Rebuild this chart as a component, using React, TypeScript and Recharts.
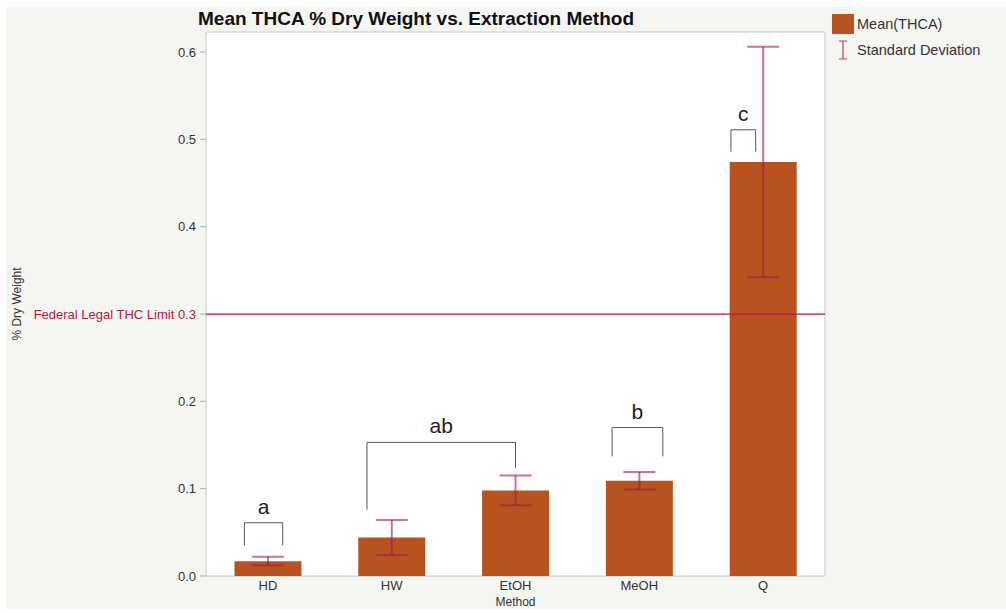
import React from "react";
import {
  BarChart,
  Bar,
  XAxis,
  YAxis,
  ErrorBar,
  ReferenceLine,
  CartesianGrid,
} from "recharts";

const methods = ["HD", "HW", "EtOH", "MeOH", "Q"];
const meanThca = [0.017, 0.044, 0.098, 0.109, 0.474];
const stdDev = [0.005, 0.02, 0.017, 0.01, 0.132];
const yTicks = [0, 0.1, 0.2, 0.3, 0.4, 0.5, 0.6];
const legalLimit = 0.3;

// Tukey grouping letters, spans in category slots (0..5) and heights in % dry weight
const groupLabels = ["a", "ab", "b", "c"];
const groupSpans = [
  [0.31, 0.62],
  [1.3, 2.5],
  [3.28, 3.69],
  [4.24, 4.44],
];
const groupTops = [0.061, 0.153, 0.17, 0.511];
const groupLegs = [
  [0.035, 0.035],
  [0.076, 0.124],
  [0.137, 0.137],
  [0.486, 0.486],
];

const data = methods.map((m, i) => ({
  method: m,
  slot: i + 0.5,
  mean: meanThca[i],
  sd: stdDev[i],
}));

const BAR = "#b8531f";
const LIMIT = "#b01840";
const FONT = "'Liberation Sans', Arial, Helvetica, sans-serif";

function YTick(props: any) {
  const { x, y, payload } = props;
  const v = payload.value as number;
  const isLimit = Math.abs(v - legalLimit) < 1e-9;
  return (
    <text x={x} y={y} dy={4.5} textAnchor="end" fontSize={13} fill={isLimit ? LIMIT : "#333"}>
      {isLimit ? `Federal Legal THC Limit ${v.toFixed(1)}` : v.toFixed(1)}
    </text>
  );
}

function YLabel(props: any) {
  const { viewBox } = props;
  const cx = viewBox.x + 17;
  const cy = viewBox.y + viewBox.height / 2;
  return (
    <text x={cx} y={cy} dy={4} textAnchor="middle" fontSize={12} fill="#333" transform={`rotate(-90 ${cx} ${cy})`}>
      % Dry Weight
    </text>
  );
}

function XLabel(props: any) {
  const { viewBox } = props;
  return (
    <text x={viewBox.x + viewBox.width / 2} y={viewBox.y + 30} textAnchor="middle" fontSize={12} fill="#333">
      Method
    </text>
  );
}

function Legend() {
  return (
    <div style={{ position: "absolute", left: 832, top: 13, fontSize: 14.5, color: "#333", lineHeight: "20px" }}>
      <div style={{ display: "flex", alignItems: "center", height: 22 }}>
        <span style={{ width: 22, height: 20, background: BAR, display: "inline-block", marginRight: 3 }} />
        Mean(THCA)
      </div>
      <div style={{ display: "flex", alignItems: "center", height: 30 }}>
        <svg width={22} height={22} style={{ marginRight: 3 }}>
          <path d="M7 2H15M11 2V20M7 20H15" stroke="#b0406a" strokeWidth={1.2} fill="none" />
        </svg>
        Standard Deviation
      </div>
    </div>
  );
}

export default function App() {
  return (
    <div
      style={{
        position: "absolute",
        left: 0,
        top: 0,
        width: 1006,
        height: 613,
        background: "#fff",
        fontFamily: FONT,
        overflow: "hidden",
      }}
    >
      <div style={{ position: "absolute", left: 6, top: 7, width: 1000, height: 602, background: "#f5f5f1" }} />
      <div style={{ position: "absolute", left: 198, top: 8, fontSize: 19, fontWeight: "bold", color: "#111" }}>
        Mean THCA % Dry Weight vs. Extraction Method
      </div>
      <Legend />
      <div style={{ position: "absolute", left: 0, top: 0 }}>
        <BarChart
          width={1006}
          height={613}
          data={data}
          margin={{ top: 32, right: 181, bottom: 0, left: 0 }}
          barCategoryGap="23%"
        >
          <CartesianGrid
            fill="#fff"
            stroke="#c8c8c8"
            horizontalCoordinatesGenerator={({ offset }: any) => [offset.top, offset.top + offset.height]}
            verticalCoordinatesGenerator={({ offset }: any) => [offset.left, offset.left + offset.width]}
          />
          <XAxis
            dataKey="method"
            height={37}
            tickLine={false}
            axisLine={false}
            tickSize={0}
            tickMargin={5}
            tick={{ fontSize: 13, fill: "#333" }}
            label={<XLabel />}
          />
          <XAxis xAxisId="slot" dataKey="slot" type="number" domain={[0, 5]} allowDataOverflow hide />
          <YAxis
            width={206}
            domain={[0, 0.623]}
            ticks={yTicks}
            allowDataOverflow
            axisLine={false}
            tickSize={6}
            tickMargin={4}
            tickLine={{ stroke: "#aaa" }}
            tick={<YTick />}
            label={<YLabel />}
          />
          <ReferenceLine y={legalLimit} stroke={LIMIT} strokeWidth={1.2} />
          <Bar dataKey="mean" fill={BAR} isAnimationActive={false}>
            <ErrorBar dataKey="sd" width={16} stroke="#a3164d" strokeOpacity={0.6} strokeWidth={2} />
          </Bar>
          {groupLabels.map((g, i) => {
            const [x0, x1] = groupSpans[i];
            const [l0, l1] = groupLegs[i];
            const top = groupTops[i];
            return (
              <React.Fragment key={g}>
                <ReferenceLine
                  xAxisId="slot"
                  segment={[{ x: x0, y: top }, { x: x1, y: top }]}
                  stroke="#555"
                  label={{ value: g, position: "top", offset: 9, fontSize: 21, fill: "#222" }}
                />
                <ReferenceLine xAxisId="slot" segment={[{ x: x0, y: top }, { x: x0, y: l0 }]} stroke="#555" />
                <ReferenceLine xAxisId="slot" segment={[{ x: x1, y: top }, { x: x1, y: l1 }]} stroke="#555" />
              </React.Fragment>
            );
          })}
        </BarChart>
      </div>
    </div>
  );
}
